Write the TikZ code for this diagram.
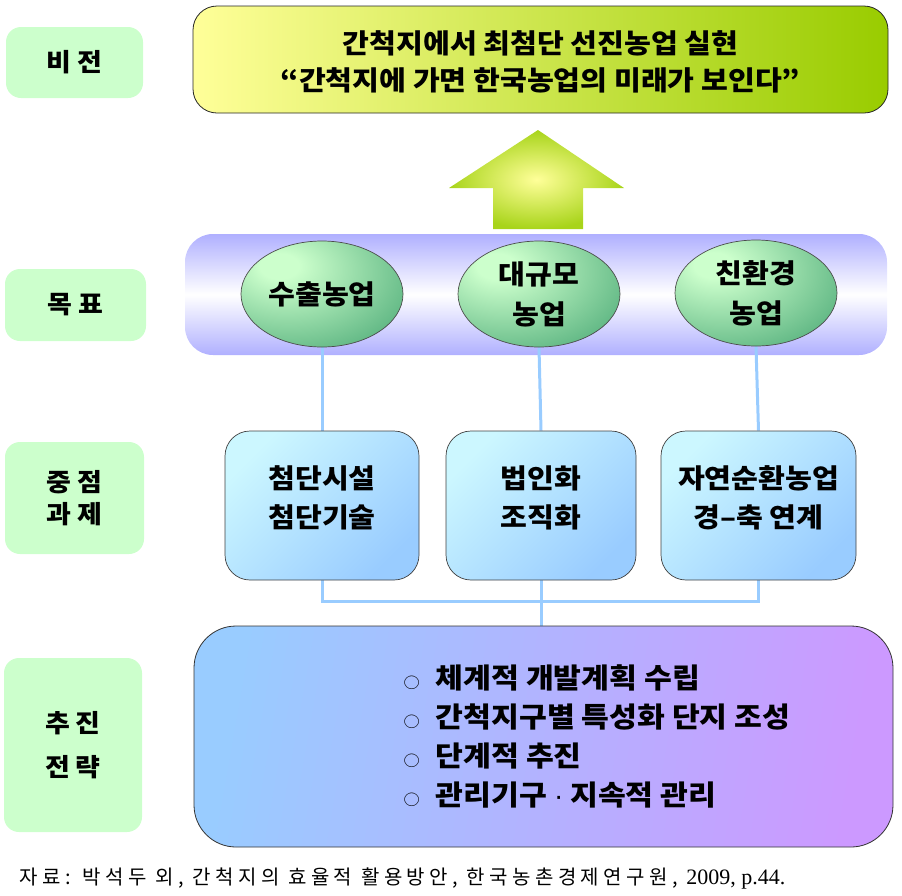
\documentclass[tikz,border=0pt]{standalone}
\usepackage{fontspec}
\setmainfont{Noto Sans CJK KR}[FakeStretch=1.08]
\newfontfamily\srcfont{Noto Sans CJK KR}[LetterSpace=22]
\newfontfamily\latinserif{Liberation Serif}
\newfontfamily\latinsans{Liberation Sans}
\usetikzlibrary{shapes.geometric}

\definecolor{lblgreen}{HTML}{CCFFCC}
\definecolor{visL}{HTML}{FFFF99}
\definecolor{visR}{HTML}{99CC00}
\definecolor{arrIn}{HTML}{FFFF99}
\definecolor{arrOut}{HTML}{A8D41A}
\definecolor{bandC}{HTML}{B0B0FF}
\definecolor{ellIn}{HTML}{CCFFCC}
\definecolor{ellOut}{HTML}{339966}
\definecolor{taskL}{HTML}{CCF7FF}
\definecolor{taskR}{HTML}{99CCFF}
\definecolor{stratL}{HTML}{99CCFF}
\definecolor{stratR}{HTML}{CC99FF}
\definecolor{connC}{HTML}{99CCFF}

\pgfdeclareradialshading{ellshade}{\pgfpoint{-14bp}{14bp}}{color(0bp)=(ellIn); color(6bp)=(ellIn); color(52bp)=(ellOut); color(100bp)=(ellOut)}

\pgfdeclarelayer{bg}
\pgfsetlayers{bg,main}

\tikzset{
  lbl/.style={fill=lblgreen, rounded corners=15, inner sep=0pt, align=center,
    font=\fontsize{25}{32}\selectfont\bfseries},
  visbox/.style={draw=black!85, line width=0.8pt, rounded corners=24, left color=visL, right color=visR,
    minimum width=695, minimum height=107},
  band/.style={rounded corners=28, top color=bandC, bottom color=bandC, middle color=white,
    minimum width=702, minimum height=121},
  ell/.style={ellipse, draw=black!70, line width=0.7pt, shading=ellshade, inner sep=0pt,
    minimum width=162, minimum height=106, align=center, font=\fontsize{27}{40}\selectfont\bfseries},
  taskbox/.style={draw=black!75, line width=0.7pt, rounded corners=25,
    top color=taskL, bottom color=taskR, shading angle=45, minimum height=149},
  tasktxt/.style={align=center, font=\fontsize{27}{39}\selectfont\bfseries},
  stratbox/.style={draw=black!80, line width=0.8pt, rounded corners=42,
    top color=stratL, bottom color=stratR, shading angle=80,
    minimum width=699, minimum height=221},
  conn/.style={draw=connC, line width=3pt},
}

\newcommand{\bulletmark}{{\fontsize{15}{15}\selectfont\mdseries ○}\hspace{16pt}}
\newcommand{\lsp}{\hspace{6pt}}

\begin{document}
\begin{tikzpicture}[x=1pt,y=-1pt]
\useasboundingbox (0,0) rectangle (902,895);

% left labels
\node[lbl, minimum width=137, minimum height=71] (lv) at (74.5,62.5) {비\lsp 전};
\node[lbl, minimum width=141, minimum height=72] (lg) at (75.5,305) {목\lsp 표};
\node[lbl, minimum width=139, minimum height=112] (lt) at (74.5,498) {중\lsp 점\\과\lsp 제};
\node[lbl, minimum width=138, minimum height=174, font=\fontsize{25}{44}\selectfont\bfseries] (ls) at (73,745) {추\lsp 진\\전\lsp 략};

% vision
\node[visbox] (vis) at (540.5,59.5) {};
\node[align=center, font=\fontsize{27}{37}\selectfont\bfseries] (vistxt) at (540.5,61.5)
  {간척지에서 최첨단 선진농업 실현\\“간척지에 가면 한국농업의 미래가 보인다”};

% arrow
\shade[inner color=arrIn, outer color=arrOut]
  (538,130) -- (624,188) -- (583,188) -- (583,229) -- (493,229) -- (493,188) -- (449,188) -- cycle;

% ellipses
\node[ell] (e1) at (322,294) {수출농업};
\node[ell] (e2) at (539,294) {대규모\\농업};
\node[ell] (e3) at (756,293) {친환경\\농업};

% task boxes
\node[taskbox, minimum width=194] (t1) at (322,505.5) {};
\node[taskbox, minimum width=190] (t2) at (541,505.5) {};
\node[taskbox, minimum width=195] (t3) at (758.5,505.5) {};
\node[tasktxt] (t1txt) at (322,497.5) {첨단시설\\첨단기술};
\node[tasktxt] (t2txt) at (541,497.5) {법인화\\조직화};
\node[tasktxt] (t3txt) at (758.5,497.5) {자연순환농업\\경–축 연계};

% strategy
\node[stratbox] (strat) at (543.5,736.5) {};
\node[anchor=west, align=left, font=\fontsize{28}{39}\selectfont\bfseries] (strtxt) at (400,736)
  {\bulletmark 체계적 개발계획 수립\\
   \bulletmark 간척지구별 특성화 단지 조성\\
   \bulletmark 단계적 추진\\
   \bulletmark 관리기구\hspace{7pt}{\latinsans\mdseries ·}\hspace{7pt}지속적 관리};

% background: band and connectors
\coordinate (bus) at (0,601);
\begin{pgfonlayer}{bg}
\node[band] (goal) at (536,294.5) {};
\draw[conn] (e1.south) -- (t1.north);
\draw[conn] (e2.south) -- (t2.north);
\draw[conn] (e3.south) -- (t3.north);
\draw[conn] (t1.south) -- (t1.south |- bus) -- (t3.south |- bus) -- (t3.south);
\draw[conn] (t2.south) -- (t2.south |- strat.north);
\end{pgfonlayer}

% source
\node[anchor=west, font=\fontsize{20}{20}\selectfont\srcfont] (src) at (16,878)
  {자료: 박석두 외, 간척지의 효율적 활용방안, 한국농촌경제연구원, {\latinserif\fontsize{22}{22}\selectfont 2009, p.44.}};
\end{tikzpicture}
\end{document}
